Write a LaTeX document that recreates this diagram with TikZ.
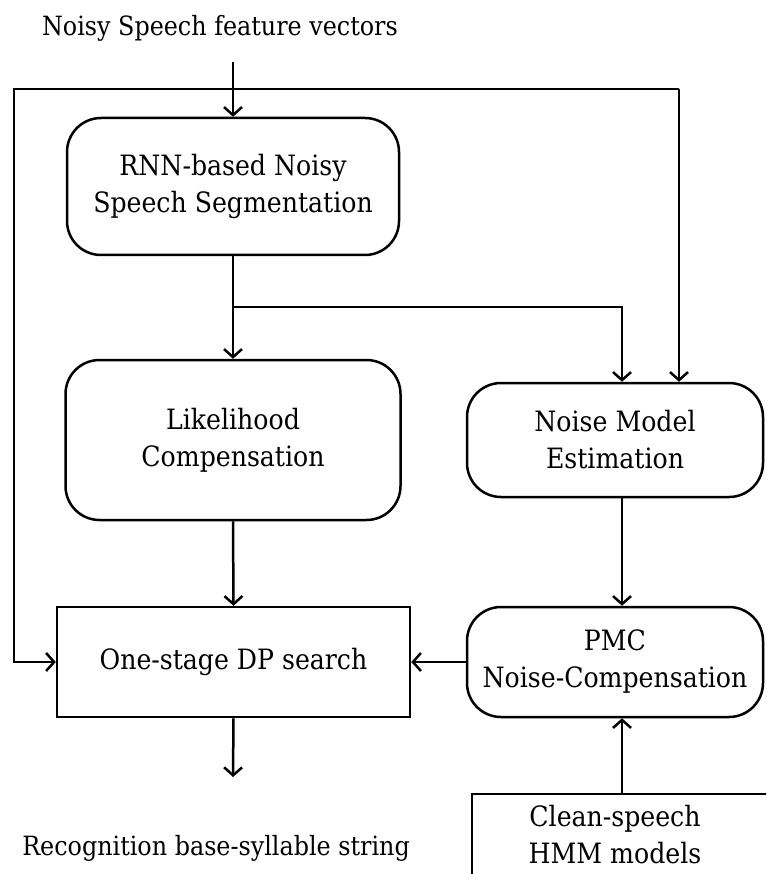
\documentclass[tikz,border=0pt]{standalone}
\usepackage{fontspec}
\setmainfont{DejaVu Serif Condensed}
\usetikzlibrary{arrows.meta, positioning}

\begin{document}
\begin{tikzpicture}[x=1pt, y=-1pt, line width=2.5pt,
  every node/.style={font=\fontsize{28}{37}\selectfont, align=center},
  lbl/.style={font=\fontsize{26.5}{36}\selectfont},
  rbox/.style={draw, rounded corners=34pt, inner sep=0pt},
  sbox/.style={draw, inner sep=0pt},
  arr/.style={-{Straight Barb[length=8pt, width=18pt]}},
]
  \useasboundingbox (0,0) rectangle (766,874);
  \clip (0,0) rectangle (766,874);
  % Eingang und Ausgang
  \node[lbl] (inlabel) at (220,28) {Noisy Speech feature vectors};
  \node[lbl] (outlabel) at (216,848) {Recognition base-syllable string};
  % Bloecke
  \node[rbox, minimum width=332pt, minimum height=137pt] (rnnseg) at (233,186.5)
    {RNN-based Noisy\\Speech Segmentation};
  \node[rbox, minimum width=335pt, minimum height=160pt] (likcomp) at (233,440)
    {Likelihood\\Compensation};
  \node[rbox, minimum width=296pt, minimum height=114pt] (noiseest) at (615,440)
    {Noise Model\\Estimation};
  \node[sbox, minimum width=353pt, minimum height=110pt] (dpsearch) at (233.5,662)
    {One-stage DP search};
  \node[rbox, minimum width=296pt, minimum height=110pt] (pmccomp) at (615,662)
    {PMC\\Noise-Compensation};
  \node[sbox, minimum width=318pt, minimum height=112pt] (cleanhmm) at (631,850) {};
  \node (cleantxt) at (615,835) {Clean-speech\\HMM models};
  % Hilfspunkte
  \coordinate (instart) at (233,62);
  \coordinate (outend) at (233,777);
  \coordinate (fbleft) at (14,89);
  \coordinate (fbright) at (679,89);
  \coordinate (split) at (233,307);
  \coordinate (col) at (622,0);
  % Verbindungen
  \draw[arr] (instart) -- (rnnseg.north);
  \draw[arr] (fbright) -- (fbleft) -- (fbleft |- dpsearch) -- (dpsearch.west);
  \draw[arr] (fbright) -- (fbright |- noiseest.north);
  \draw[arr] (rnnseg.south) -- (likcomp.north);
  \draw[arr] (split) -| (noiseest.north -| col);
  \draw[arr] (likcomp.south) -- (dpsearch.north);
  \draw[arr] (noiseest.south -| col) -- (pmccomp.north -| col);
  \draw[arr] (pmccomp.west) -- (dpsearch.east);
  \draw[arr] (cleanhmm.north -| col) -- (pmccomp.south -| col);
  \draw[arr] (dpsearch.south) -- (outend);
\end{tikzpicture}
\end{document}
